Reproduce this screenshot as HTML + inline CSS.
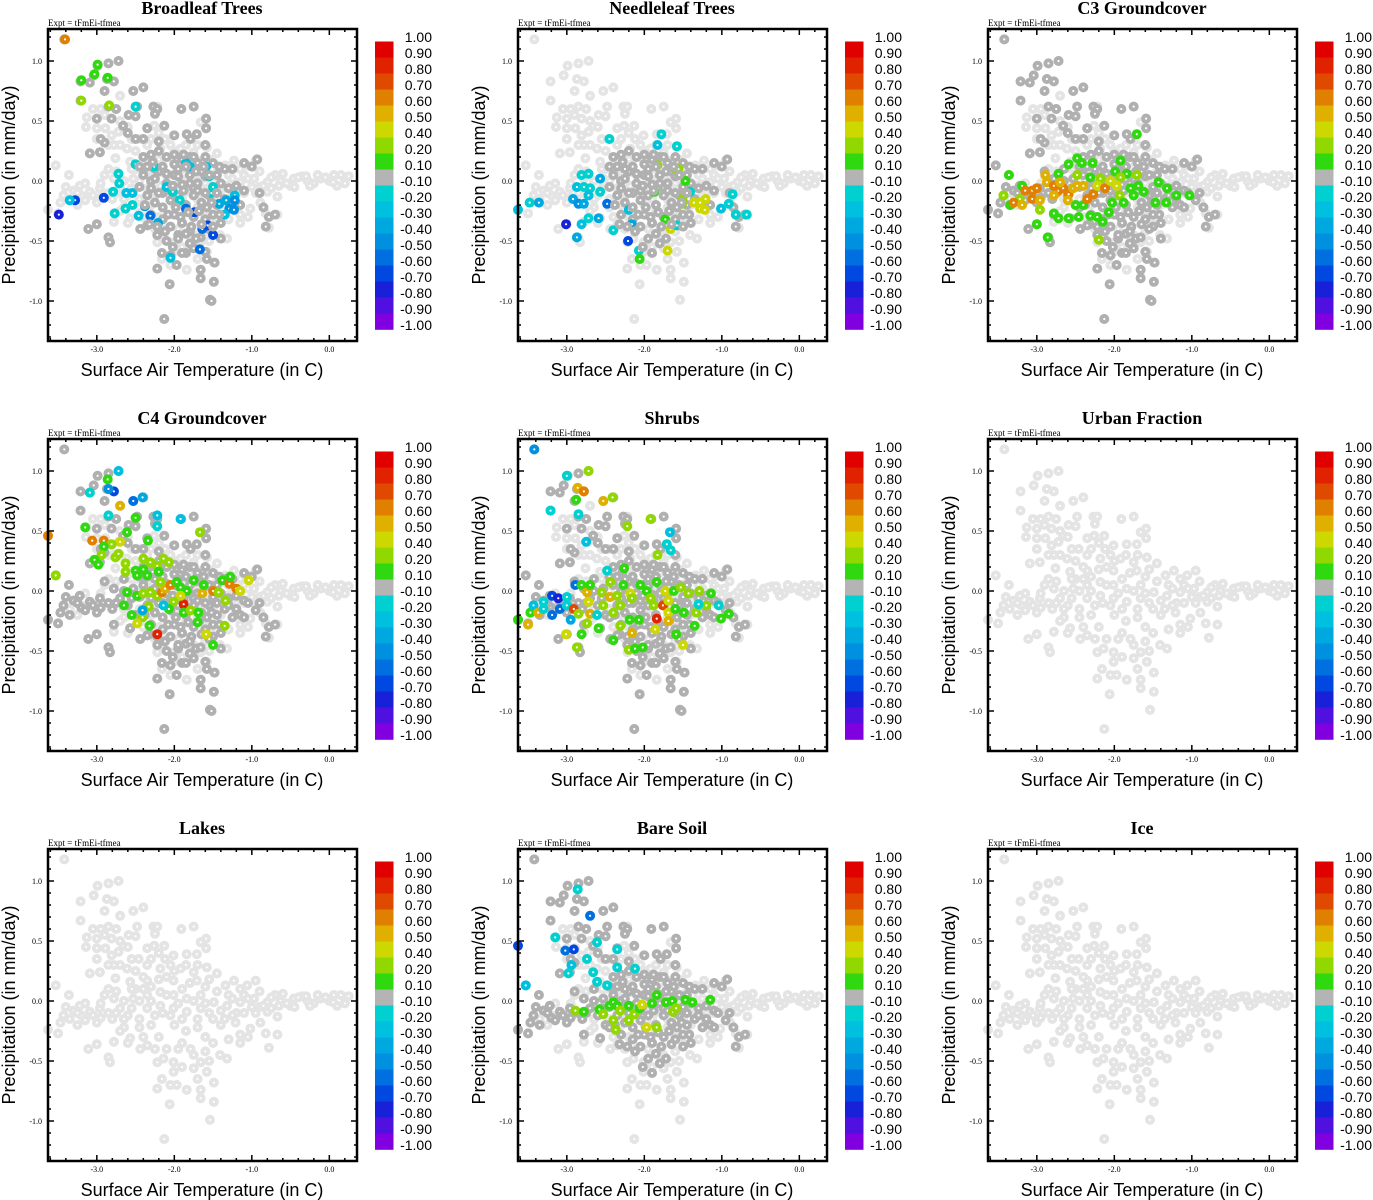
<!DOCTYPE html>
<html><head><meta charset="utf-8"><style>
html,body{margin:0;padding:0;background:#fff;}
svg{display:block;}
</style></head><body>
<svg id="fig" width="1373" height="1200" xmlns="http://www.w3.org/2000/svg"></svg>
<script>
const panelTitles=["Broadleaf Trees","Needleleaf Trees","C3 Groundcover","C4 Groundcover","Shrubs","Urban Fraction","Lakes","Bare Soil","Ice"];
const tempTicks=[-3,-2,-1,0];
const tempTickLabels=["-3.0","-2.0","-1.0","0.0"];
const precipTicks=[1,0.5,0,-0.5,-1];
const precipTickLabels=["1.0","0.5","0.0","-0.5","-1.0"];
const cbBounds=[1,0.9,0.8,0.7,0.6,0.5,0.4,0.2,0.1,-0.1,-0.2,-0.3,-0.4,-0.5,-0.6,-0.7,-0.8,-0.9,-1];
const cbLabels=["1.00","0.90","0.80","0.70","0.60","0.50","0.40","0.20","0.10","-0.10","-0.20","-0.30","-0.40","-0.50","-0.60","-0.70","-0.80","-0.90","-1.00"];
const cbColors=["#e00000","#e02200","#e04a00","#e08000","#e0b000","#ccd800","#90d800","#30d810","#b4b4b4","#00d0d0","#00c0e0","#00a8e0","#0090e0","#0070e0","#0048e0","#1820d8","#5010e0","#8000e0"];

const cloud=[[-3.42,1.18],[-2.99,0.96],[-2.85,0.98],[-2.72,1.0],[-3.21,0.83],[-3.04,0.88],[-2.87,0.85],[-2.78,0.83],[-2.9,0.75],[-2.53,0.75],[-2.4,0.78],[-3.21,0.67],[-2.7,0.71],[-2.85,0.62],[-2.75,0.6],[-2.48,0.62],[-2.27,0.62],[-2.22,0.62],[-1.91,0.6],[-1.75,0.62],[-3.13,0.53],[-3.0,0.52],[-2.81,0.52],[-2.59,0.55],[-2.5,0.54],[-2.25,0.56],[-1.59,0.52],[-1.66,0.49],[-3.14,0.45],[-3.0,0.44],[-2.89,0.44],[-2.66,0.46],[-2.35,0.44],[-2.26,0.46],[-2.13,0.46],[-1.59,0.44],[-3.0,0.35],[-2.81,0.38],[-2.72,0.41],[-2.46,0.35],[-2.12,0.35],[-2.01,0.38],[-1.84,0.39],[-1.71,0.39],[-3.09,0.23],[-2.96,0.24],[-2.78,0.3],[-2.61,0.27],[-2.35,0.3],[-2.18,0.27],[-1.92,0.27],[-1.75,0.24],[-1.58,0.28],[-1.45,0.23],[-3.53,0.13],[-3.36,0.05],[-2.76,0.19],[-2.57,0.16],[-2.35,0.17],[-2.01,0.17],[-1.71,0.17],[-1.23,0.17],[-0.95,0.17],[-1.06,0.13],[-1.34,0.13],[-3.3,-0.08],[-3.43,-0.12],[-3.47,-0.18],[-3.22,-0.04],[-3.09,-0.09],[-2.96,-0.06],[-2.78,0.02],[-2.7,-0.06],[-2.53,0.02],[-2.35,0.05],[-2.35,-0.06],[-2.18,0.075],[-2.18,-0.04],[-2.01,0.05],[-2.01,-0.06],[-1.84,0.02],[-1.84,-0.09],[-1.66,0.05],[-1.66,-0.06],[-1.49,-0.01],[-1.32,-0.04],[-1.15,-0.01],[-0.97,0.02],[-0.8,-0.01],[-0.63,0.0],[-0.46,0.02],[-0.28,0.0],[-0.11,0.02],[0.06,0.05],[0.19,0.03],[0.1,-0.04],[-0.8,-0.09],[-0.67,-0.13],[-0.89,-0.18],[-1.02,-0.23],[-1.21,-0.18],[-0.5,-0.04],[-0.35,0.04],[-0.2,-0.02],[0.0,0.0],[-0.7,0.05],[-0.9,-0.05],[-1.1,0.05],[-3.5,-0.27],[-3.11,-0.4],[-3.0,-0.36],[-2.85,-0.47],[-2.83,-0.51],[-2.78,-0.34],[-2.57,-0.31],[-2.44,-0.4],[-2.35,-0.37],[-2.22,-0.51],[-2.14,-0.48],[-2.01,-0.51],[-2.16,-0.65],[-2.01,-0.59],[-1.97,-0.7],[-1.79,-0.4],[-1.75,-0.56],[-1.66,-0.51],[-1.58,-0.59],[-1.49,-0.68],[-1.41,-0.45],[-1.32,-0.48],[-0.82,-0.27],[-0.78,-0.39],[-0.67,-0.28],[-2.22,-0.73],[-1.84,-0.74],[-1.66,-0.74],[-1.66,-0.81],[-1.49,-0.84],[-2.06,-0.86],[-1.54,-0.99],[-2.13,-1.15],[-3.63,-0.24],[-2.6,-0.12],[-2.45,-0.15],[-2.3,-0.2],[-2.15,-0.1],[-2.0,-0.2],[-1.85,-0.25],[-1.7,-0.15],[-1.55,-0.1],[-1.4,-0.2],[-2.5,0.1],[-2.3,0.12],[-2.1,0.2],[-1.9,0.1],[-1.6,0.12],[-2.8,-0.15],[-3.0,-0.18],[-3.2,-0.12],[-2.9,0.05],[-1.2,-0.1],[-1.0,-0.05],[-1.3,0.05],[-2.2,-0.3],[-1.9,-0.35],[-1.6,-0.3],[-2.4,-0.3],[-3.25,-0.2],[-2.65,-0.22],[-1.15,-0.28],[-1.3,-0.32]];
const cloudFill=[[-3.4,-0.05],[-3.35,-0.15],[-3.25,-0.1],[-3.15,-0.02],[-3.15,-0.16],[-3.05,-0.12],[-2.95,-0.02],[-2.95,-0.14],[-2.85,-0.1],[-2.85,0.1],[-2.75,-0.1],[-2.75,0.08],[-2.65,0.0],[-2.65,-0.15],[-2.55,-0.06],[-2.55,0.1],[-2.45,0.0],[-2.45,-0.22],[-2.4,0.2],[-2.4,0.1],[-2.3,0.0],[-2.25,-0.12],[-2.2,0.18],[-2.1,0.05],[-2.05,-0.12],[-2.0,0.25],[-1.95,-0.02],[-1.9,-0.15],[-1.8,0.15],[-1.75,0.0],[-1.7,-0.22],[-1.6,-0.02],[-1.55,0.18],[-1.5,-0.15],[-1.45,0.08],[-1.4,-0.08],[-1.35,-0.15],[-1.25,0.02],[-1.25,-0.12],[-1.15,0.1],[-1.1,-0.1],[-1.05,0.02],[-0.95,-0.1],[-0.9,0.08],[-0.85,-0.04],[-0.75,0.03],[-0.75,-0.06],[-0.65,-0.04],[-0.6,0.06],[-0.55,-0.02],[-0.45,-0.05],[-0.4,0.03],[-0.3,0.04],[-0.25,-0.04],[-0.15,0.05],[-0.05,0.03],[0.05,-0.01],[0.15,0.05],[0.25,0.04],[0.2,-0.02],[-2.9,0.55],[-2.95,0.6],[-3.05,0.6],[-2.7,0.5],[-2.6,0.45],[-2.55,0.35],[-2.7,0.3],[-2.85,0.3],[-2.3,0.35],[-2.2,0.4],[-2.05,0.3],[-1.85,0.3],[-1.7,0.3],[-2.5,0.25],[-2.25,-0.4],[-2.1,-0.4],[-1.95,-0.4],[-1.75,-0.45],[-1.6,-0.42],[-1.5,-0.35],[-2.05,-0.7],[-1.9,-0.55],[-1.7,-0.65],[-1.55,-0.5],[-1.15,-0.35],[-1.05,-0.3],[-2.6,-0.35],[-2.7,-0.25]];

const darkArm=[[-3.42,1.18],[-2.99,0.96],[-2.85,0.98],[-2.72,1.0],[-3.21,0.83],[-3.09,0.82],[-3.04,0.88],[-2.87,0.85],[-2.78,0.83],[-2.9,0.75],[-2.53,0.75],[-2.4,0.78],[-3.21,0.67],[-2.85,0.62],[-2.75,0.6],[-2.48,0.62],[-2.27,0.62],[-2.22,0.6],[-1.91,0.6],[-1.75,0.62],[-3.0,0.52],[-2.81,0.52],[-2.59,0.55],[-2.5,0.54],[-2.25,0.56],[-1.59,0.52],[-1.59,0.44],[-2.66,0.46],[-2.35,0.44],[-2.13,0.46],[-2.6,0.4],[-2.5,0.35],[-2.4,0.35],[-2.2,0.33],[-2.0,0.38],[-1.84,0.39],[-1.71,0.39],[-1.79,0.35],[-1.6,0.3],[-3.09,0.23],[-2.96,0.24],[-2.9,0.32],[-2.95,0.35]];
const darkCenter=[[-2.4,0.2],[-2.3,0.22],[-2.2,0.25],[-2.1,0.2],[-2.0,0.22],[-1.9,0.18],[-1.8,0.2],[-1.7,0.15],[-1.6,0.2],[-1.5,0.15],[-1.45,0.05],[-1.35,0.1],[-1.25,0.1],[-1.1,0.15],[-1.0,0.12],[-0.93,0.18],[-2.4,0.05],[-2.3,0.0],[-2.2,0.08],[-2.1,-0.02],[-2.0,0.05],[-1.9,-0.03],[-1.8,0.05],[-1.7,-0.02],[-1.6,0.04],[-1.5,-0.05],[-1.4,-0.02],[-1.3,-0.06],[-1.2,-0.04],[-1.1,-0.08],[-2.35,-0.12],[-2.25,-0.18],[-2.15,-0.1],[-2.05,-0.16],[-1.95,-0.12],[-1.85,-0.2],[-1.75,-0.12],[-1.65,-0.18],[-1.55,-0.12],[-1.45,-0.2],[-1.35,-0.15],[-1.25,-0.22],[-1.15,-0.2],[-0.9,-0.1],[-0.85,-0.22],[-0.78,-0.3],[-0.82,-0.38],[-0.7,-0.28],[-2.3,-0.28],[-2.15,-0.32],[-2.0,-0.28],[-1.9,-0.35],[-1.75,-0.3],[-1.6,-0.32],[-1.5,-0.28],[-1.4,-0.35],[-2.25,0.1],[-1.95,0.1],[-1.65,0.08],[-2.05,-0.08],[-1.75,-0.06]];
const darkFill=[[-2.35,0.12],[-2.3,-0.06],[-2.25,0.02],[-2.2,-0.1],[-2.15,0.12],[-2.15,-0.22],[-2.1,0.06],[-2.08,-0.28],[-2.02,-0.04],[-2.0,0.14],[-1.98,-0.22],[-1.95,0.04],[-1.92,-0.3],[-1.88,-0.08],[-1.85,0.12],[-1.82,-0.26],[-1.8,-0.02],[-1.78,-0.38],[-1.72,0.08],[-1.7,-0.08],[-1.68,-0.25],[-1.65,-0.36],[-1.62,0.12],[-1.6,-0.1],[-1.58,-0.22],[-1.55,0.05],[-1.52,-0.18],[-1.5,-0.38],[-1.45,-0.1],[-1.42,-0.28],[-2.38,-0.2],[-2.32,-0.36],[-2.22,-0.38],[-2.12,-0.42],[-2.05,-0.38],[-1.95,-0.48],[-1.85,-0.44],[-1.72,-0.48],[-2.02,-0.55],[-1.9,-0.6],[-1.8,-0.52],[-2.45,-0.05],[-2.45,0.12],[-2.28,0.16],[-1.88,0.22],[-1.75,0.2],[-1.42,0.12]];
const darkTail=[[-2.35,-0.37],[-2.22,-0.45],[-2.1,-0.5],[-1.95,-0.45],[-1.8,-0.42],[-1.66,-0.47],[-1.55,-0.4],[-1.4,-0.48],[-2.16,-0.6],[-2.05,-0.62],[-1.97,-0.7],[-1.85,-0.6],[-1.75,-0.56],[-1.6,-0.59],[-1.58,-0.65],[-1.48,-0.68],[-2.22,-0.73],[-1.66,-0.74],[-1.66,-0.81],[-1.49,-0.84],[-2.06,-0.86],[-1.54,-0.99],[-1.52,-1.0],[-2.13,-1.15],[-2.85,-0.47],[-2.83,-0.51],[-3.11,-0.4],[-3.0,-0.36],[-2.44,-0.4]];
const darkBand=[[-3.63,-0.24],[-3.5,-0.27],[-3.43,-0.12],[-3.47,-0.18],[-3.3,-0.08],[-3.22,-0.04],[-3.09,-0.09],[-2.96,-0.06],[-2.78,0.02],[-2.7,-0.06],[-2.53,0.02],[-3.36,0.05],[-3.53,0.13],[-2.8,-0.15],[-3.0,-0.18],[-3.2,-0.14],[-2.6,-0.12],[-2.5,-0.2],[-2.9,0.08],[-2.65,0.1],[-2.78,-0.28],[-2.57,-0.31],[-3.35,-0.2],[-3.4,-0.05],[-3.25,-0.1],[-3.15,-0.16],[-3.05,-0.12],[-2.95,-0.14],[-2.85,-0.1],[-2.75,-0.1],[-2.65,0.0],[-2.55,-0.06],[-2.45,-0.22],[-1.3,-0.12],[-1.2,-0.15],[-1.05,-0.1],[-0.95,-0.16],[-1.1,-0.22]];

const broadleafPts=[[-3.41,1.18,0.6],[-2.99,0.97,0.1],[-3.03,0.89,0.1],[-3.2,0.84,0.1],[-2.86,0.86,0.1],[-3.2,0.67,0.2],[-2.84,0.63,0.2],[-2.5,0.62,-0.2],[-2.5,0.14,-0.2],[-2.72,0.06,-0.2],[-2.71,-0.02,-0.2],[-2.79,-0.09,-0.2],[-2.62,-0.1,-0.3],[-2.54,-0.1,-0.3],[-2.91,-0.14,-0.7],[-3.28,-0.16,-0.7],[-3.35,-0.16,-0.3],[-3.49,-0.28,-0.8],[-2.77,-0.27,-0.2],[-2.63,-0.23,-0.2],[-2.54,-0.2,-0.2],[-2.46,-0.29,-0.3],[-2.31,-0.29,-0.6],[-2.38,-0.21,-0.5],[-2.21,-0.35,-0.4],[-2.05,-0.64,-0.3],[-2.26,0.12,-0.2],[-2.1,-0.05,-0.3],[-2.02,-0.09,-0.2],[-1.85,0.15,-0.3],[-1.8,0.12,-0.3],[-1.59,0.12,-0.3],[-1.55,0.04,-0.2],[-1.5,-0.05,-0.2],[-1.52,-0.1,-0.2],[-1.42,-0.19,-0.4],[-1.33,-0.16,-0.4],[-1.22,-0.12,-0.3],[-1.22,-0.16,-0.5],[-1.29,-0.23,-0.5],[-1.23,-0.24,-0.5],[-1.35,-0.28,-0.3],[-1.64,-0.4,-0.6],[-1.57,-0.37,-0.7],[-1.5,-0.45,-0.7],[-1.67,-0.57,-0.6],[-1.74,-0.26,-0.7],[-1.85,-0.23,-0.6],[-1.93,-0.16,-0.2]];
const needleleafPts=[[-2.45,0.35,-0.2],[-1.78,0.39,-0.2],[-1.83,0.3,-0.3],[-1.58,0.29,-0.2],[-2.81,0.05,-0.2],[-2.72,0.06,-0.2],[-2.87,-0.05,-0.3],[-2.78,-0.05,-0.2],[-2.7,-0.06,-0.2],[-2.72,-0.12,-0.3],[-2.57,0.02,-0.4],[-2.57,-0.09,-0.2],[-3.48,-0.18,-0.2],[-3.36,-0.18,-0.4],[-3.63,-0.24,-0.3],[-2.92,-0.15,-0.4],[-2.85,-0.19,-0.5],[-2.78,-0.19,-0.4],[-2.72,-0.31,-0.2],[-2.81,-0.36,-0.3],[-3.01,-0.36,-0.8],[-2.87,-0.47,-0.4],[-2.59,-0.31,-0.4],[-2.48,-0.19,-0.6],[-2.4,-0.41,-0.2],[-2.2,-0.24,-0.3],[-2.16,-0.36,-0.4],[-2.21,-0.5,-0.7],[-2.07,-0.58,-0.2],[-1.83,0.13,0.2],[-1.62,0.11,0.2],[-1.56,0.1,0.2],[-1.47,0.0,0.1],[-1.87,-0.09,0.1],[-1.51,-0.15,0.2],[-1.51,-0.19,0.2],[-1.36,-0.18,0.4],[-1.28,-0.18,0.4],[-1.21,-0.15,0.4],[-1.28,-0.23,0.4],[-1.22,-0.24,0.4],[-1.73,-0.32,0.1],[-1.66,-0.4,0.4],[-1.7,-0.58,0.4],[-2.06,-0.65,0.1],[-1.01,-0.23,-0.3],[-0.91,-0.19,-0.2],[-0.86,-0.11,-0.2],[-0.82,-0.28,-0.2],[-0.68,-0.28,-0.2],[-1.58,-0.37,-0.2],[-1.41,-0.09,-0.2]];
const c3Pts=[[-1.71,0.39,0.1],[-2.59,0.14,0.1],[-2.48,0.19,0.1],[-2.42,0.15,0.1],[-2.28,0.15,0.1],[-1.92,0.17,0.1],[-3.36,0.05,0.1],[-3.19,-0.04,0.1],[-2.89,0.05,0.5],[-2.72,0.06,0.1],[-2.48,0.05,0.2],[-1.99,0.08,0.1],[-1.84,0.06,0.1],[-1.71,0.05,0.2],[-3.34,-0.2,0.1],[-3.22,-0.15,0.2],[-2.96,-0.24,0.2],[-2.78,-0.27,0.1],[-2.72,-0.31,0.1],[-2.59,-0.31,0.1],[-2.46,-0.3,0.1],[-2.5,-0.2,0.1],[-2.4,-0.2,0.1],[-2.31,-0.29,0.1],[-2.22,-0.3,0.1],[-2.15,-0.34,0.1],[-2.07,-0.26,0.1],[-2.03,-0.18,0.1],[-1.93,-0.12,0.2],[-1.88,-0.18,0.1],[-1.79,-0.06,0.1],[-1.75,-0.12,0.1],[-1.69,-0.04,0.1],[-1.62,-0.09,0.1],[-1.47,-0.18,0.1],[-1.43,-0.01,0.1],[-1.32,-0.06,0.1],[-1.33,-0.18,0.1],[-1.2,-0.12,0.1],[-1.03,-0.12,0.1],[-3.0,-0.36,0.1],[-2.86,-0.47,0.1],[-2.2,-0.49,0.2],[-2.31,0.03,0.1],[-2.18,0.02,0.2],[-1.92,0.03,0.2],[-3.43,-0.12,0.3],[-3.3,-0.18,0.6],[-3.19,-0.2,0.5],[-3.15,-0.08,0.6],[-3.06,-0.08,0.6],[-3.0,-0.06,0.6],[-3.06,-0.15,0.6],[-2.96,-0.16,0.5],[-2.87,-0.01,0.5],[-2.78,-0.04,0.6],[-2.72,-0.08,0.6],[-2.66,-0.06,0.6],[-2.59,-0.11,0.6],[-2.53,-0.06,0.5],[-2.48,-0.04,0.5],[-2.4,-0.04,0.5],[-2.35,-0.15,0.6],[-2.27,-0.11,0.6],[-2.22,-0.04,0.4],[-2.12,-0.06,0.6],[-2.05,0.0,0.4],[-1.97,-0.04,0.4],[-2.78,-0.12,0.5],[-2.6,-0.16,0.5],[-2.7,-0.01,0.5]];
const c4Pts=[[-3.63,0.46,0.6],[-3.53,0.13,0.2],[-2.72,1.0,-0.3],[-2.86,0.93,0.1],[-3.09,0.82,-0.2],[-2.78,0.83,-0.7],[-2.85,0.85,-0.5],[-2.53,0.75,-0.6],[-2.41,0.78,-0.4],[-2.7,0.71,0.5],[-2.85,0.63,-0.2],[-2.22,0.63,-0.3],[-2.22,0.54,-0.2],[-1.92,0.6,-0.3],[-2.5,0.61,0.1],[-3.15,0.53,0.1],[-2.61,0.49,0.1],[-3.06,0.42,0.6],[-2.91,0.42,0.6],[-2.7,0.41,0.4],[-2.81,0.39,0.2],[-2.91,0.37,0.1],[-2.34,0.42,0.1],[-1.67,0.49,0.2],[-2.94,0.3,0.2],[-3.03,0.26,0.1],[-2.98,0.22,0.1],[-2.76,0.28,0.2],[-2.72,0.31,0.2],[-2.63,0.23,0.2],[-2.63,0.16,0.2],[-2.5,0.17,0.1],[-2.48,0.13,0.1],[-2.4,0.27,0.2],[-2.31,0.24,0.2],[-2.22,0.21,0.2],[-2.14,0.27,0.2],[-2.07,0.24,0.2],[-2.35,0.13,0.1],[-2.2,0.16,0.1],[-2.4,0.18,0.1],[-2.61,-0.01,0.1],[-2.48,-0.04,0.1],[-2.4,-0.02,0.2],[-2.31,-0.01,0.2],[-2.22,-0.04,0.2],[-2.16,-0.01,0.6],[-2.12,0.02,0.5],[-2.05,0.05,0.6],[-2.18,0.075,0.2],[-1.97,0.075,0.1],[-1.92,0.03,0.1],[-1.84,0.0,0.1],[-1.75,0.09,0.1],[-1.64,-0.02,0.5],[-1.62,0.05,0.1],[-1.5,0.0,0.6],[-1.43,-0.01,0.2],[-1.38,0.09,0.1],[-1.29,0.06,0.6],[-1.28,0.12,0.1],[-1.34,-0.08,0.2],[-1.2,0.02,0.6],[-1.15,0.0,0.4],[-1.04,0.09,0.4],[-1.88,-0.11,0.8],[-1.92,-0.04,0.4],[-2.01,-0.09,0.2],[-2.07,-0.15,0.1],[-1.88,-0.18,0.1],[-1.79,-0.16,0.2],[-1.69,-0.18,0.1],[-1.7,-0.26,0.1],[-2.65,-0.12,0.1],[-2.55,-0.2,0.1],[-2.41,-0.22,0.2],[-2.33,-0.13,0.2],[-2.48,-0.27,0.4],[-2.32,-0.29,0.1],[-2.22,-0.36,0.8],[-1.59,-0.36,0.4],[-1.5,-0.45,0.1],[-1.35,-0.29,0.2],[-2.41,-0.16,-0.4],[-2.14,-0.12,-0.3]];
const shrubsPts=[[-3.42,1.18,-0.5],[-3.0,0.96,-0.2],[-2.72,1.0,0.2],[-2.86,0.86,0.5],[-2.78,0.83,0.6],[-2.88,0.76,0.1],[-2.53,0.75,0.5],[-2.41,0.78,0.2],[-3.21,0.67,-0.2],[-2.85,0.64,-0.2],[-1.92,0.6,0.2],[-2.22,0.54,0.2],[-1.67,0.49,-0.3],[-2.75,0.41,-0.3],[-1.71,0.39,-0.2],[-1.66,0.34,-0.2],[-1.83,0.3,0.2],[-2.26,0.19,0.1],[-2.48,0.17,-0.2],[-3.63,-0.24,0.1],[-3.5,-0.28,0.5],[-3.47,-0.18,0.1],[-3.43,-0.12,-0.3],[-3.37,-0.18,0.5],[-3.3,-0.15,-0.2],[-3.3,-0.09,-0.2],[-3.19,-0.04,-0.7],[-3.19,-0.2,-0.6],[-3.11,-0.06,-0.8],[-3.09,-0.15,-0.6],[-3.0,-0.05,-0.2],[-3.0,-0.12,-0.2],[-2.91,-0.15,0.7],[-2.89,0.05,-0.6],[-2.95,-0.24,-0.4],[-3.01,-0.36,0.4],[-2.87,-0.47,0.2],[-2.81,-0.36,0.1],[-2.74,-0.27,0.2],[-2.85,-0.19,0.2],[-2.81,0.05,0.1],[-2.74,-0.01,0.5],[-2.7,0.05,0.1],[-2.72,-0.09,0.4],[-2.7,-0.19,0.5],[-2.61,-0.2,-0.2],[-2.59,-0.31,0.1],[-2.55,-0.01,0.2],[-2.53,-0.12,0.2],[-2.44,0.075,0.2],[-2.44,-0.05,0.5],[-2.4,-0.18,0.2],[-2.35,-0.04,0.2],[-2.31,-0.12,0.2],[-2.27,0.05,0.1],[-2.18,-0.02,0.4],[-2.16,-0.06,0.2],[-2.16,-0.35,0.5],[-2.4,-0.41,0.1],[-2.2,-0.49,0.2],[-2.12,-0.48,0.1],[-2.02,-0.47,0.1],[-2.31,-0.29,0.2],[-2.19,-0.24,0.1],[-2.07,-0.24,0.1],[-2.05,0.05,0.1],[-1.97,0.0,0.1],[-1.92,-0.06,0.2],[-1.88,-0.12,0.2],[-1.84,-0.23,0.8],[-1.76,-0.12,0.7],[-1.84,0.075,0.1],[-1.73,0.0,0.4],[-1.69,-0.08,0.4],[-1.69,-0.18,0.4],[-1.69,-0.25,0.5],[-1.62,0.0,0.1],[-1.53,0.03,0.2],[-1.6,-0.15,0.1],[-1.49,-0.18,0.1],[-1.43,-0.02,0.2],[-1.33,-0.18,0.2],[-1.29,0.0,0.2],[-1.2,-0.12,0.2],[-1.14,-0.02,0.1],[-1.35,-0.29,0.1],[-1.59,-0.36,0.1],[-1.5,-0.45,0.4],[-1.86,-0.32,0.4],[-1.01,-0.23,0.1],[-0.91,-0.19,0.1],[-1.04,-0.12,-0.2],[-1.3,-0.11,-0.2]];
const bareSoilPts=[[-3.63,0.46,-0.7],[-3.53,0.13,-0.3],[-2.86,0.93,-0.2],[-2.7,0.71,-0.6],[-3.15,0.53,-0.2],[-3.02,0.42,-0.6],[-2.91,0.43,-0.7],[-2.61,0.49,-0.2],[-2.35,0.43,-0.2],[-2.94,0.3,-0.3],[-2.98,0.23,-0.2],[-2.74,0.35,-0.2],[-2.61,0.16,-0.2],[-2.35,0.28,-0.2],[-2.12,0.27,-0.2],[-2.66,0.24,-0.2],[-2.48,0.13,-0.2],[-2.89,-0.08,0.2],[-2.78,-0.09,0.1],[-2.58,-0.07,0.1],[-2.53,-0.11,0.2],[-2.45,-0.04,0.1],[-2.4,-0.01,0.1],[-2.35,-0.04,0.1],[-2.4,-0.16,0.2],[-2.37,-0.24,0.2],[-2.31,-0.08,0.2],[-2.2,-0.04,0.1],[-2.2,-0.16,0.2],[-2.13,-0.11,0.2],[-2.06,-0.06,0.1],[-2.03,-0.03,0.4],[-1.97,-0.22,0.4],[-1.9,-0.02,0.1],[-1.84,-0.22,0.2],[-1.84,0.05,0.1],[-1.72,-0.01,0.1],[-1.64,0.0,0.1],[-1.63,-0.09,0.2],[-1.59,-0.06,0.2],[-1.47,0.01,0.1],[-1.38,-0.01,0.1],[-1.15,0.01,0.1]];

const panelDark=[[darkArm,darkCenter,darkTail],[darkCenter],[darkArm,darkCenter,darkFill,darkTail,darkBand],[darkArm,darkCenter,darkFill,darkTail,darkBand],[darkArm,darkCenter,darkFill,darkTail,darkBand],[],[],[darkArm,darkCenter,darkFill,darkBand],[]];
const panelDarkTop=[[darkFill],[darkFill],[],[],[],[],[],[],[]];
const panelColored=[broadleafPts,needleleafPts,c3Pts,c4Pts,shrubsPts,[],[],bareSoilPts,[]];

const NS="http://www.w3.org/2000/svg";
const svg=document.getElementById('fig');
function mk(tag,attrs,parent){const e=document.createElementNS(NS,tag);for(const k in attrs)e.setAttribute(k,attrs[k]);(parent||svg).appendChild(e);return e;}
function colorFor(v){for(let i=0;i<cbColors.length;i++){if(v<cbBounds[i]&&v>=cbBounds[i+1])return cbColors[i];}return v>=1?cbColors[0]:cbColors[17];}

const BOX_L=48,BOX_R=357,BOX_T=29,BOX_B=341;
for(let p=0;p<9;p++){
  const ox=(p%3)*470, oy=Math.floor(p/3)*410;
  const sx=x=>ox+48+(x+3.63)*77.5;
  const sy=y=>oy+181-120*y;
  const g=mk('g',{});
  
  
  const t=mk('text',{x:ox+202,y:oy+14,'text-anchor':'middle','font-family':'Liberation Serif, serif','font-size':18,'font-weight':'bold'},g);
  t.textContent=panelTitles[p];
  
  
  const ex=mk('text',{x:ox+48,y:oy+26,'font-family':'Liberation Serif, serif','font-size':9},g);
  ex.textContent='Expt = tFmEi-tfmea';
  
  
  const clip='clip'+p;
  const cp=mk('clipPath',{id:clip},g);
  mk('rect',{x:ox+BOX_L-6,y:oy+BOX_T-6,width:BOX_R-BOX_L+12,height:BOX_B-BOX_T+12},cp);
  const pts=mk('g',{'clip-path':'url(#'+clip+')'},g);
  
  
  function dot(x,y,c,nm){
    const c1=mk('circle',{cx:sx(x),cy:sy(y),r:5,fill:c},pts);
    
    
    mk('circle',{cx:sx(x),cy:sy(y),r:1.1,fill:'#fff'},pts);
  }
  cloud.forEach(d=>dot(d[0],d[1],'#e4e4e4','background-point'));
  cloudFill.forEach(d=>dot(d[0],d[1],'#e4e4e4','background-point'));
  panelDark[p].forEach(arr=>arr.forEach(d=>dot(d[0],d[1],'#b0b0b0','neutral-point')));
  panelColored[p].forEach(d=>dot(d[0],d[1],colorFor(d[2]),'colored-point'));
  panelDarkTop[p].forEach(arr=>arr.forEach(d=>dot(d[0],d[1],'#b0b0b0','neutral-point')));
  const frame=mk('rect',{x:ox+BOX_L,y:oy+BOX_T,width:BOX_R-BOX_L,height:BOX_B-BOX_T,fill:'none',stroke:'#000','stroke-width':2.5},g);
  
  
  let tk='';
  for(let v=-3.6;v<=0.36;v+=0.2){const X=sx(v);const major=tempTicks.some(m=>Math.abs(m-v)<1e-6);const L=major?6:3;tk+=`M${X},${oy+BOX_B}v${-L}M${X},${oy+BOX_T}v${L}`;}
  for(let v=-1.3;v<=1.27;v+=0.1){const Y=sy(v);const major=precipTicks.some(m=>Math.abs(m-v)<1e-6);const L=major?6:3;tk+=`M${ox+BOX_L},${Y}h${L}M${ox+BOX_R},${Y}h${-L}`;}
  const tp=mk('path',{d:tk,stroke:'#000','stroke-width':1.5,fill:'none'},g);
  
  
  tempTicks.forEach((v,i)=>{const e=mk('text',{x:sx(v),y:oy+352,'text-anchor':'middle','font-family':'Liberation Serif, serif','font-size':8},g);e.textContent=tempTickLabels[i];
    
    });
  precipTicks.forEach((v,i)=>{const e=mk('text',{x:ox+42,y:sy(v)+3,'text-anchor':'end','font-family':'Liberation Serif, serif','font-size':8},g);e.textContent=precipTickLabels[i];
    
    });
  const xt=mk('text',{x:ox+202,y:oy+376,'text-anchor':'middle','font-family':'Liberation Sans, sans-serif','font-size':18},g);
  xt.textContent='Surface Air Temperature (in C)';
  
  
  const yt=mk('text',{x:0,y:0,'text-anchor':'middle','font-family':'Liberation Sans, sans-serif','font-size':18,transform:`translate(${ox+15},${oy+185}) rotate(-90)`},g);
  yt.textContent='Precipitation (in mm/day)';
  
  
  const cb=mk('g',{},g);
  
  
  cbColors.forEach((c,i)=>{const r=mk('rect',{x:ox+375,y:oy+41.5+i*16,width:18.5,height:16.3,fill:c},cb);
    
    });
  cbLabels.forEach((l,i)=>{const e=mk('text',{x:ox+432,y:oy+42+i*16,'text-anchor':'end','font-family':'Liberation Sans, sans-serif','font-size':14},cb);e.textContent=l;
    
    });
}
</script>
</body></html>
